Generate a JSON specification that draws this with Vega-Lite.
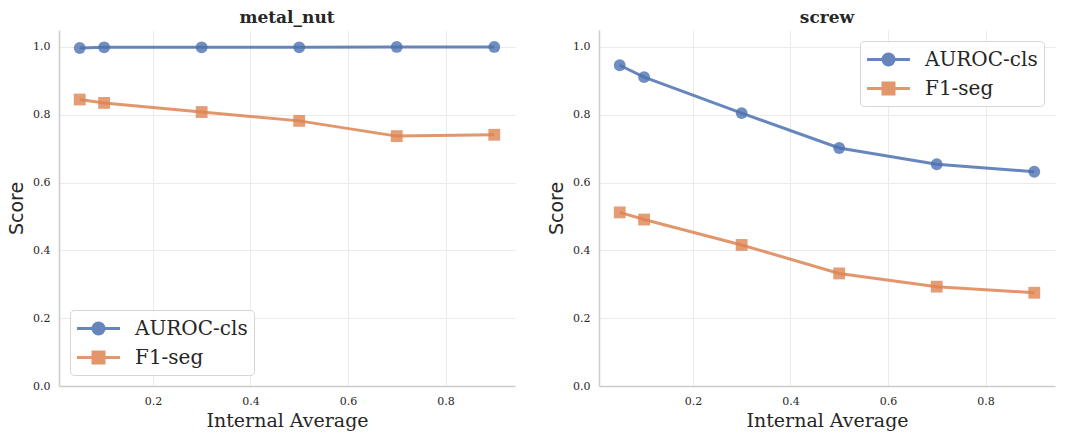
{
  "$schema": "https://vega.github.io/schema/vega-lite/v6.json",
  "background": "white",
  "padding": {"left": 7, "top": 9, "right": 5, "bottom": 5},
  "bounds": "flush",
  "spacing": 84,
  "data": {
    "values": [
      {"panel": "metal_nut", "x": 0.05, "metric": "AUROC-cls", "score": 0.997},
      {"panel": "metal_nut", "x": 0.1, "metric": "AUROC-cls", "score": 0.999},
      {"panel": "metal_nut", "x": 0.3, "metric": "AUROC-cls", "score": 0.999},
      {"panel": "metal_nut", "x": 0.5, "metric": "AUROC-cls", "score": 0.999},
      {"panel": "metal_nut", "x": 0.7, "metric": "AUROC-cls", "score": 1.0},
      {"panel": "metal_nut", "x": 0.9, "metric": "AUROC-cls", "score": 1.0},
      {"panel": "metal_nut", "x": 0.05, "metric": "F1-seg", "score": 0.845},
      {"panel": "metal_nut", "x": 0.1, "metric": "F1-seg", "score": 0.835},
      {"panel": "metal_nut", "x": 0.3, "metric": "F1-seg", "score": 0.808},
      {"panel": "metal_nut", "x": 0.5, "metric": "F1-seg", "score": 0.782},
      {"panel": "metal_nut", "x": 0.7, "metric": "F1-seg", "score": 0.737},
      {"panel": "metal_nut", "x": 0.9, "metric": "F1-seg", "score": 0.741},
      {"panel": "screw", "x": 0.05, "metric": "AUROC-cls", "score": 0.946},
      {"panel": "screw", "x": 0.1, "metric": "AUROC-cls", "score": 0.911},
      {"panel": "screw", "x": 0.3, "metric": "AUROC-cls", "score": 0.805},
      {"panel": "screw", "x": 0.5, "metric": "AUROC-cls", "score": 0.702},
      {"panel": "screw", "x": 0.7, "metric": "AUROC-cls", "score": 0.654},
      {"panel": "screw", "x": 0.9, "metric": "AUROC-cls", "score": 0.632},
      {"panel": "screw", "x": 0.05, "metric": "F1-seg", "score": 0.512},
      {"panel": "screw", "x": 0.1, "metric": "F1-seg", "score": 0.491},
      {"panel": "screw", "x": 0.3, "metric": "F1-seg", "score": 0.416},
      {"panel": "screw", "x": 0.5, "metric": "F1-seg", "score": 0.332},
      {"panel": "screw", "x": 0.7, "metric": "F1-seg", "score": 0.293},
      {"panel": "screw", "x": 0.9, "metric": "F1-seg", "score": 0.275}
    ]
  },
  "config": {
    "view": {"stroke": null},
    "font": "DejaVu Serif",
    "style": {"guide-label": {"font": "DejaVu Serif"}},
    "title": {"font": "DejaVu Serif", "fontSize": 17, "fontWeight": "bold", "color": "#262626", "offset": 3},
    "axis": {
      "labelFont": "DejaVu Serif",
      "labelFontSize": 11,
      "labelColor": "#262626",
      "titleFont": "DejaVu Serif",
      "titleFontSize": 19,
      "titleFontWeight": "normal",
      "titleColor": "#262626",
      "ticks": false,
      "gridColor": "#ebebeb",
      "gridWidth": 1,
      "domainColor": "#cccccc",
      "domainWidth": 1.5
    },
    "axisX": {"labelPadding": 9, "titlePadding": 5},
    "axisY": {"labelPadding": 9, "titlePadding": 6, "titleFont": "DejaVu Sans"},
    "legend": {
      "labelFont": "DejaVu Serif",
      "labelFontSize": 20,
      "labelColor": "#262626",
      "symbolSize": 484,
      "symbolStrokeWidth": 3,
      "symbolOpacity": 0.85,
      "symbolOffset": 10,
      "labelOffset": 24,
      "rowPadding": 5,
      "padding": 6,
      "strokeColor": "#d6d6d6",
      "fillColor": "rgba(255,255,255,0.85)",
      "cornerRadius": 4,
      "title": null
    }
  },
  "hconcat": [
    {
      "width": 456,
      "height": 356,
      "title": {"text": "metal_nut"},
      "transform": [{"filter": "datum.panel === 'metal_nut'"}],
      "encoding": {
        "x": {"field": "x", "type": "quantitative", "scale": {"domain": [0.0075, 0.9425], "nice": false, "zero": false}, "axis": {"title": "Internal Average", "values": [0.2, 0.4, 0.6, 0.8], "format": ".1f"}},
        "y": {"field": "score", "type": "quantitative", "scale": {"domain": [0, 1.05], "nice": false}, "axis": {"title": "Score", "values": [0, 0.2, 0.4, 0.6, 0.8, 1.0], "format": ".1f"}}
      },
      "layer": [
        {"mark": {"type": "line", "strokeWidth": 3, "opacity": 0.85},
         "encoding": {"color": {"field": "metric", "type": "nominal", "scale": {"domain": ["AUROC-cls", "F1-seg"], "range": ["#4C72B0", "#DD8452"]}, "legend": {"orient": "bottom-left", "offset": 11, "labelFont": "DejaVu Serif", "encode": {"labels": {"update": {"font": {"value": "DejaVu Serif"}}}}}}}},
        {"mark": {"type": "point", "filled": true, "size": 140, "opacity": 0.8},
         "encoding": {"color": {"field": "metric", "type": "nominal"}, "shape": {"condition": {"test": "datum.metric === 'AUROC-cls'", "value": "circle"}, "value": "square"}}},
        {"transform": [{"filter": "false"}],
         "mark": {"type": "point", "filled": true, "strokeWidth": 3},
         "encoding": {
           "color": {"field": "metric", "type": "nominal"},
           "stroke": {"field": "metric", "type": "nominal", "scale": {"domain": ["AUROC-cls", "F1-seg"], "range": ["#4C72B0", "#DD8452"]}, "legend": {"labelFont": "DejaVu Serif"}},
           "shape": {"field": "metric", "type": "nominal", "scale": {"domain": ["AUROC-cls", "F1-seg"], "range": ["M-1.95,0H1.95M-0.5,0A0.5,0.5,0,1,0,0.5,0A0.5,0.5,0,1,0,-0.5,0Z", "M-1.95,0H1.95M-0.5,-0.5H0.5V0.5H-0.5Z"]}, "legend": {"labelFont": "DejaVu Serif"}}
         }}
      ]
    },
    {
      "width": 456,
      "height": 356,
      "title": {"text": "screw"},
      "transform": [{"filter": "datum.panel === 'screw'"}],
      "encoding": {
        "x": {"field": "x", "type": "quantitative", "scale": {"domain": [0.0075, 0.9425], "nice": false, "zero": false}, "axis": {"title": "Internal Average", "values": [0.2, 0.4, 0.6, 0.8], "format": ".1f"}},
        "y": {"field": "score", "type": "quantitative", "scale": {"domain": [0, 1.05], "nice": false}, "axis": {"title": "Score", "values": [0, 0.2, 0.4, 0.6, 0.8, 1.0], "format": ".1f"}}
      },
      "layer": [
        {"mark": {"type": "line", "strokeWidth": 3, "opacity": 0.85},
         "encoding": {"color": {"field": "metric", "type": "nominal", "scale": {"domain": ["AUROC-cls", "F1-seg"], "range": ["#4C72B0", "#DD8452"]}, "legend": {"orient": "top-right", "offset": 11, "labelFont": "DejaVu Serif", "encode": {"labels": {"update": {"font": {"value": "DejaVu Serif"}}}}}}}},
        {"mark": {"type": "point", "filled": true, "size": 140, "opacity": 0.8},
         "encoding": {"color": {"field": "metric", "type": "nominal"}, "shape": {"condition": {"test": "datum.metric === 'AUROC-cls'", "value": "circle"}, "value": "square"}}},
        {"transform": [{"filter": "false"}],
         "mark": {"type": "point", "filled": true, "strokeWidth": 3},
         "encoding": {
           "color": {"field": "metric", "type": "nominal"},
           "stroke": {"field": "metric", "type": "nominal", "scale": {"domain": ["AUROC-cls", "F1-seg"], "range": ["#4C72B0", "#DD8452"]}, "legend": {"labelFont": "DejaVu Serif"}},
           "shape": {"field": "metric", "type": "nominal", "scale": {"domain": ["AUROC-cls", "F1-seg"], "range": ["M-1.95,0H1.95M-0.5,0A0.5,0.5,0,1,0,0.5,0A0.5,0.5,0,1,0,-0.5,0Z", "M-1.95,0H1.95M-0.5,-0.5H0.5V0.5H-0.5Z"]}, "legend": {"labelFont": "DejaVu Serif"}}
         }}
      ]
    }
  ],
  "resolve": {"scale": {"color": "independent", "stroke": "independent", "shape": "independent", "x": "independent", "y": "independent"}, "legend": {"color": "independent", "stroke": "independent", "shape": "independent"}}
}
